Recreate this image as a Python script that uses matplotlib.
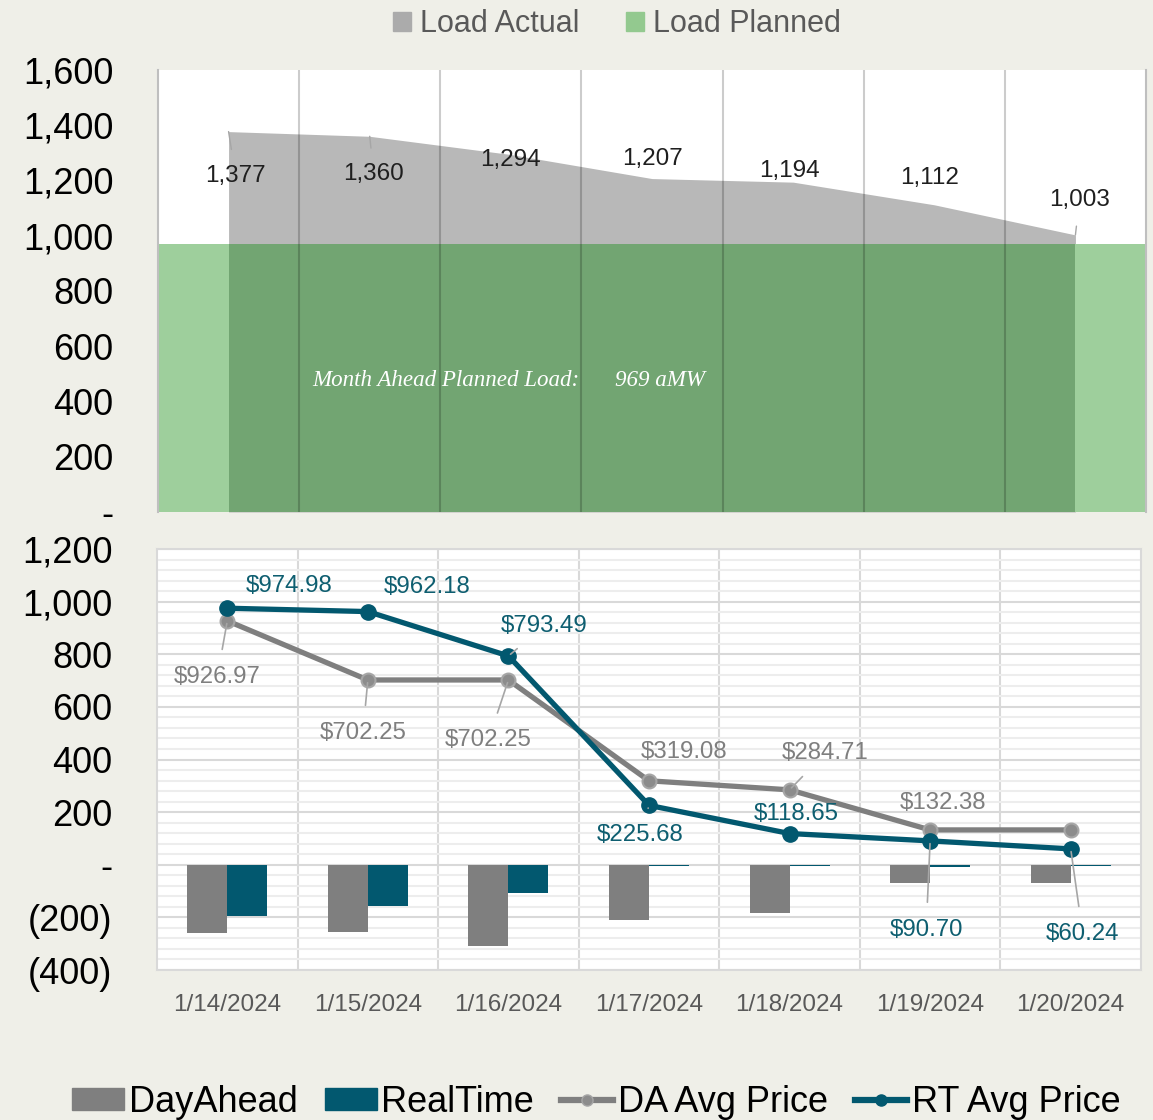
import matplotlib
matplotlib.use("Agg")
import matplotlib.pyplot as plt
from matplotlib.patches import Patch
from matplotlib.lines import Line2D
from matplotlib.ticker import FuncFormatter, MultipleLocator
import numpy as np

plt.rcParams['font.family'] = ['Liberation Sans', 'DejaVu Sans']

# ---------------- data ----------------
dates = ["1/14/2024", "1/15/2024", "1/16/2024", "1/17/2024", "1/18/2024", "1/19/2024", "1/20/2024"]
load_actual = [1377, 1360, 1294, 1207, 1194, 1112, 1003]
load_planned = 969
dayahead = [-259, -256, -307, -209, -184, -70, -70]
realtime = [-195, -155, -108, -5, -3, -10, -5]
da_avg_price = [926.97, 702.25, 702.25, 319.08, 284.71, 132.38, 132.38]
rt_avg_price = [974.98, 962.18, 793.49, 225.68, 118.65, 90.70, 60.24]

# label layout (pixel offsets from point) and leader-line flags
top_lbl_off = [(7, -44), (4, -38), (0, -5), (0, 20), (-4, 11), (-5, 27), (4, 35)]
top_lbl_leader = [True, True, False, False, False, False, True]
da_lbl_off = [(-10, -56), (-5, -53), (-20, -60), (35, 29), (36, 37), (13, 27), None]
da_lbl_leader = [True, True, True, False, True, False, False]
rt_lbl_off = [(62, 22), (59, 25), (36, 30), (-9, -30), (7, 20), (-4, -89), (12, -85)]
rt_lbl_leader = [False, False, True, True, False, True, True]

BG = '#EFEFE8'
GRAY_AREA = '#B8B8B8'
GREEN_LIGHT = '#9ECF9C'
GREEN_DARK = '#72A572'
DA_COL = '#7F7F7F'
RT_COL = '#02586F'
LEADER = '#A6A6A6'

W, H = 1153, 1120
fig = plt.figure(figsize=(W / 100, H / 100), dpi=100, facecolor=BG)

x = np.arange(len(dates))

# ---------------- top panel ----------------
ax1 = fig.add_axes([158 / W, 1 - 512 / H, 988 / W, 442 / H])
ax1.set_facecolor('white')
ax1.fill_between(x, load_actual, color=GRAY_AREA, lw=0, zorder=1)
ax1.fill_between([-0.5, 6.5], [load_planned] * 2, color=GREEN_LIGHT, lw=0, zorder=2)
ax1.fill_between(x, np.minimum(load_actual, load_planned), color=GREEN_DARK, lw=0, zorder=3)
for b in np.arange(0.5, 6.0, 1.0):
    ax1.axvline(b, color='black', alpha=0.2, lw=1.5, zorder=4)
ax1.set_xlim(-0.5, 6.5)
ax1.set_ylim(0, 1600)
ax1.set_yticks(np.arange(0, 1601, 200))
ax1.yaxis.set_major_formatter(FuncFormatter(lambda v, p: '-' if v == 0 else f'{v:,.0f}'))
ax1.set_xticks([])
ax1.tick_params(axis='y', length=0, pad=32, labelsize=26, labelcolor='black')
for s in ['top', 'bottom']:
    ax1.spines[s].set_visible(False)
for s in ['left', 'right']:
    ax1.spines[s].set_color('#BFBFBF')
    ax1.spines[s].set_linewidth(1.5)

for i, v in enumerate(load_actual):
    dx, dy = top_lbl_off[i]
    ax1.annotate(f'{v:,}', xy=(i, v), xytext=(dx, dy), textcoords='offset pixels',
                 ha='center', va='center', fontsize=17.5, color='#1F1F1F', zorder=6,
                 arrowprops=dict(arrowstyle='-', color=LEADER, lw=1, shrinkA=9, shrinkB=0)
                 if top_lbl_leader[i] else None)

ax1.text((312 - 158) / 141 - 0.5, (512 - 381) / 0.27625, 'Month Ahead Planned Load:',
         family='Liberation Serif', style='italic', color='white', fontsize=16.6,
         ha='left', va='center', zorder=6)
ax1.text((615 - 158) / 141 - 0.5, (512 - 381) / 0.27625, f'{load_planned:,} aMW',
         family='Liberation Serif', style='italic', color='white', fontsize=16.6,
         ha='left', va='center', zorder=6)

fig.legend(handles=[Patch(color='#ABABAB'), Patch(color='#93C98F')],
           labels=['Load Actual', 'Load Planned'], loc='center',
           bbox_to_anchor=(0.535, 1 - 24 / H), ncol=2, frameon=False,
           fontsize=22, labelcolor='#595959', handlelength=0.6, handleheight=0.6,
           handletextpad=0.3, columnspacing=1.5)

# ---------------- bottom panel ----------------
ax2 = fig.add_axes([157 / W, 1 - 970 / H, 984 / W, 421 / H])
ax2.set_facecolor('white')
ax2.set_xlim(-0.5, 6.5)
ax2.set_ylim(-400, 1200)
ax2.yaxis.set_major_locator(MultipleLocator(200))
ax2.yaxis.set_minor_locator(MultipleLocator(40))
ax2.grid(axis='y', which='minor', color='#EDEDED', lw=1.5, zorder=0)
ax2.grid(axis='y', which='major', color='#D9D9D9', lw=1.5, zorder=0)
for b in np.arange(0.5, 6.0, 1.0):
    ax2.axvline(b, color='#D9D9D9', lw=1.5, zorder=0)
ax2.set_axisbelow(True)


def fmt2(v, p):
    if v == 0:
        return '-'
    if v < 0:
        return f'({-v:,.0f})'
    return f'{v:,.0f}'


ax2.yaxis.set_major_formatter(FuncFormatter(fmt2))
ax2.tick_params(axis='y', which='both', length=0, pad=32, labelsize=26, labelcolor='black')
ax2.set_xticks(x)
ax2.set_xticklabels(dates)
ax2.tick_params(axis='x', length=0, pad=17, labelsize=17.5, labelcolor='#595959')
for s in ax2.spines.values():
    s.set_color('#D9D9D9')
    s.set_linewidth(1.5)

bw = 0.285
ax2.bar(x - bw / 2, dayahead, width=bw, color=DA_COL, zorder=2, label='DayAhead')
ax2.bar(x + bw / 2, realtime, width=bw, color=RT_COL, zorder=2, label='RealTime')
ax2.plot(x, da_avg_price, color=DA_COL, lw=3.8, marker='o', ms=10,
         markerfacecolor='#8C8C8C', markeredgecolor='#A6A6A6', markeredgewidth=1.5, zorder=3)
ax2.plot(x, rt_avg_price, color=RT_COL, lw=3.8, marker='o', ms=11,
         markerfacecolor=RT_COL, markeredgecolor=RT_COL, zorder=4)

for i, v in enumerate(da_avg_price):
    if da_lbl_off[i] is None:
        continue
    ax2.annotate(f'${v:,.2f}', xy=(i, v), xytext=da_lbl_off[i], textcoords='offset pixels',
                 ha='center', va='center', fontsize=17.3, color='#7F7F7F', zorder=6,
                 arrowprops=dict(arrowstyle='-', color=LEADER, lw=1.2, shrinkA=10, shrinkB=2)
                 if da_lbl_leader[i] else None)
for i, v in enumerate(rt_avg_price):
    ax2.annotate(f'${v:,.2f}', xy=(i, v), xytext=rt_lbl_off[i], textcoords='offset pixels',
                 ha='center', va='center', fontsize=17.3, color='#0E5E70', zorder=6,
                 arrowprops=dict(arrowstyle='-', color=LEADER, lw=1.2, shrinkA=10, shrinkB=2)
                 if rt_lbl_leader[i] else None)

handles = [Patch(color=DA_COL), Patch(color=RT_COL),
           Line2D([], [], color=DA_COL, lw=4.5, marker='o', ms=8, markerfacecolor='#8C8C8C',
                  markeredgecolor='#A6A6A6'),
           Line2D([], [], color=RT_COL, lw=4.5, marker='o', ms=8)]
fig.legend(handles=handles, labels=['DayAhead', 'RealTime', 'DA Avg Price', 'RT Avg Price'],
           loc='center', bbox_to_anchor=(0.517, 1 - 1102 / H), ncol=4, frameon=False,
           fontsize=26, labelcolor='black', handlelength=1.45, handleheight=0.58,
           handletextpad=0.12, columnspacing=0.75)

fig.savefig('out.png', dpi=100, facecolor=BG)
